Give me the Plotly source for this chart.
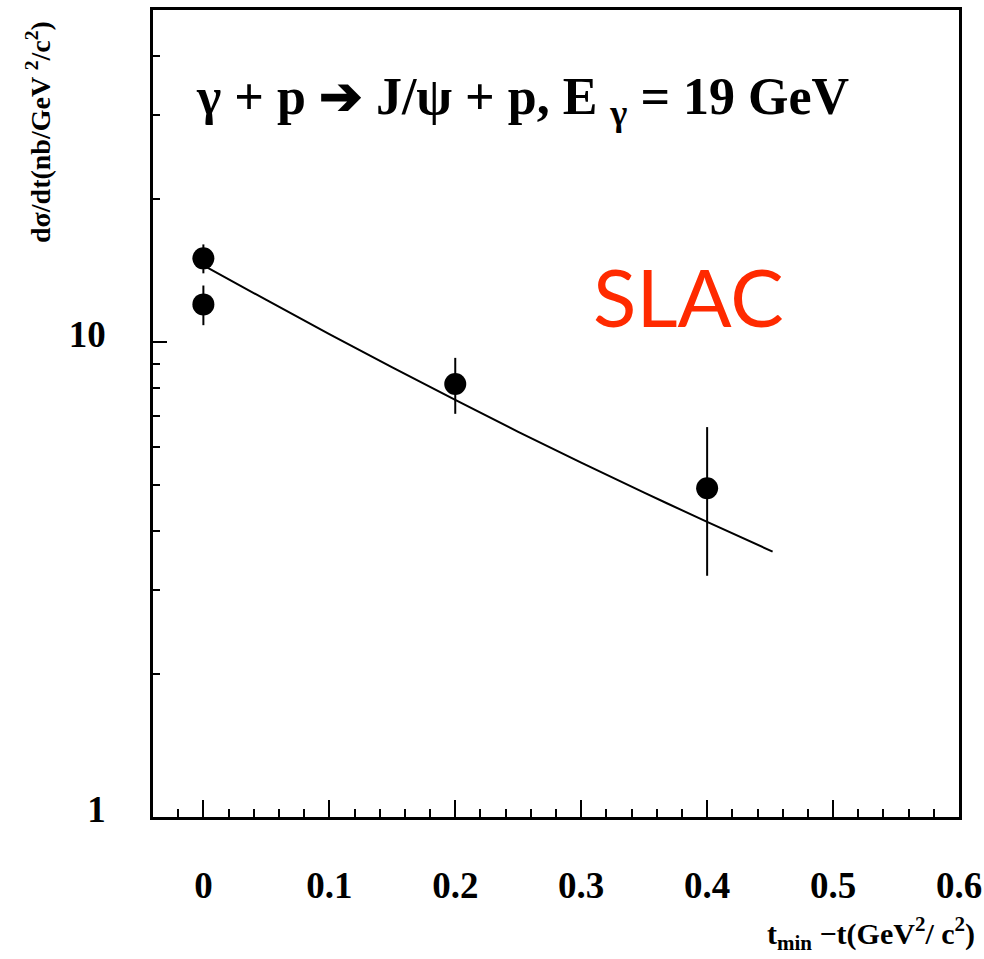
import plotly.graph_objects as go

# Data points
t_pts = [0.0, 0.0, 0.2, 0.4]
dsdt = [15.0, 12.0, 8.16, 4.92]
dsdt_err = [1.05, 1.15, 1.1, 1.7]

# Fitted curve
t_fit = [0.0, 0.05, 0.1, 0.15, 0.2, 0.25, 0.3, 0.35, 0.4, 0.452]
dsdt_fit = [14.5, 12.26, 10.39, 8.84, 7.55, 6.47, 5.57, 4.82, 4.18, 3.62]

# Axis ticks
x_major = [0, 0.1, 0.2, 0.3, 0.4, 0.5, 0.6]
y_major = [1, 10]
y_major_text = ["1", "10"]
y_minor = [2, 3, 4, 5, 6, 7, 8, 9, 20, 30, 40]

W, H = 984, 959
L, R, T, B = 153, 25, 10, 142
pw, ph = W - L - R, H - T - B


def px(x):
    return (x - L) / pw


def py(y):
    return (H - B - y) / ph


SERIF = "Liberation Serif"

fig = go.Figure()
fig.add_trace(go.Scatter(
    x=t_fit, y=dsdt_fit, mode="lines", line_shape="spline",
    line=dict(color="black", width=2), showlegend=False, hoverinfo="skip"))
fig.add_trace(go.Scatter(
    x=t_pts, y=dsdt, mode="markers",
    marker=dict(color="black", size=22, symbol="circle"),
    error_y=dict(type="data", array=dsdt_err, visible=True,
                 color="black", thickness=2, width=0),
    showlegend=False))

fig.update_layout(
    width=W, height=H,
    margin=dict(l=L, r=R, t=T, b=B, autoexpand=False),
    paper_bgcolor="white", plot_bgcolor="white",
    font=dict(family=SERIF, color="black"),
    xaxis=dict(
        range=[-0.04, 0.6], tickmode="array", tickvals=x_major,
        ticktext=[("%g" % v) for v in x_major],
        ticks="inside", ticklen=17, tickwidth=2, tickcolor="black",
        minor=dict(dtick=0.02, tick0=0, ticks="inside", ticklen=8,
                   tickwidth=2, tickcolor="black"),
        showline=True, linewidth=2.5, linecolor="black", mirror=True,
        showgrid=False, zeroline=False,
        tickfont=dict(family=SERIF, size=37, weight="bold", color="black"),
        ticklabelstandoff=34,
    ),
    yaxis=dict(
        type="log", range=[0, 1.69897],
        tickmode="array", tickvals=y_major, ticktext=y_major_text,
        ticks="inside", ticklen=14, tickwidth=2, tickcolor="black",
        minor=dict(tickmode="array", tickvals=y_minor, ticks="inside",
                   ticklen=7, tickwidth=2, tickcolor="black"),
        showline=True, linewidth=2.5, linecolor="black", mirror=True,
        showgrid=False, zeroline=False,
        tickfont=dict(family=SERIF, size=37, weight="bold", color="black"),
        ticklabelstandoff=37, ticklabelshift=-8,
    ),
    annotations=[
        dict(text="γ + p ➔ J/ψ + p, E <sub>γ</sub> = 19 GeV",
             x=px(522), y=py(100), xref="paper", yref="paper",
             xanchor="center", yanchor="middle", showarrow=False,
             font=dict(family=SERIF, size=52, weight="bold", color="black")),
        dict(text="SLAC", x=px(688), y=py(296), xref="paper", yref="paper",
             xanchor="center", yanchor="middle", showarrow=False,
             font=dict(family="Lato", size=80, color="#ff2a00")),
        dict(text="dσ/dt(nb/GeV <sup>2</sup>/c<sup>2</sup>)",
             x=px(38), y=py(132), xref="paper", yref="paper",
             xanchor="center", yanchor="middle", textangle=-90,
             showarrow=False,
             font=dict(family=SERIF, size=28, weight="bold", color="black")),
        dict(text="t<sub>min</sub> −t(GeV<sup>2</sup>/ c<sup>2</sup>)",
             x=px(977), y=py(933), xref="paper", yref="paper",
             xanchor="right", yanchor="middle", showarrow=False,
             font=dict(family=SERIF, size=30, weight="bold", color="black")),
    ],
)

fig.write_html("out.html")
